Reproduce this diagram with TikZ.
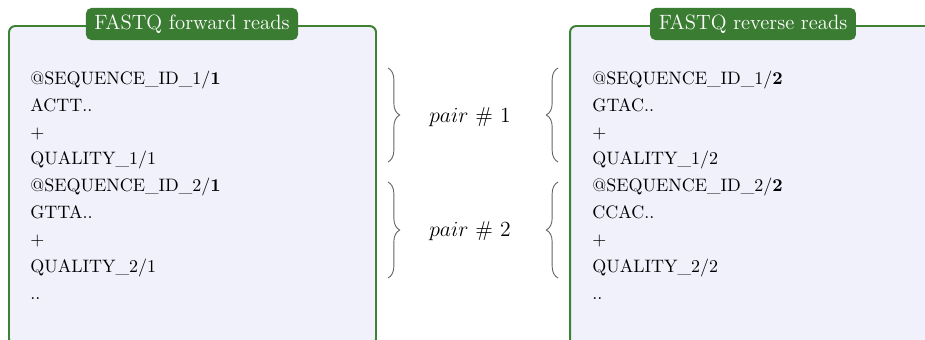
\documentclass[tikz,border=0pt]{standalone}
\usetikzlibrary{decorations.pathreplacing}
\definecolor{framegreen}{RGB}{60,130,50}
\definecolor{tabgreen}{RGB}{58,125,50}
\definecolor{boxfill}{RGB}{241,241,252}
\definecolor{bracegray}{RGB}{100,100,100}
\begin{document}
\begin{tikzpicture}[x=0.5556pt,y=0.5556pt,
  panel/.style={draw=framegreen,fill=boxfill,line width=1.1pt,rounded corners=3.5pt},
  tab/.style={fill=tabgreen,text=white,rounded corners=3pt,inner sep=0pt,minimum height=17.8pt,font=\fontsize{11.5}{13}\selectfont},
  readline/.style={anchor=base west,inner sep=0pt,font=\fontsize{10}{12}\selectfont},
  pairbrace/.style={draw=bracegray,line width=0.5pt,decorate,decoration={brace,amplitude=6.5pt}},
  pairlabel/.style={inner sep=0pt,font=\fontsize{12}{14}\selectfont}]
\useasboundingbox (0,0) rectangle (925,-339);
\begin{scope}
\clip (0,0) rectangle (925,-339);
\draw[panel] (9,-26) rectangle (376,-345);
\draw[panel] (570,-26) rectangle (1000,-345);
\end{scope}
\node[tab,minimum width=117.8pt] (ftab) at (192,-24) {FASTQ forward reads};
\node[tab,minimum width=114.4pt] (rtab) at (753,-24) {FASTQ reverse reads};
% forward reads
\node[readline] (f1) at (30,-84) {@SEQUENCE\_ID\_1/\textbf{1}};
\node[readline] (f2) at (30,-111) {ACTT..};
\node[readline] (f3) at (30,-138) {+};
\node[readline] (f4) at (30,-164) {QUALITY\_1/1};
\node[readline] (f5) at (30,-191) {@SEQUENCE\_ID\_2/\textbf{1}};
\node[readline] (f6) at (30,-218) {GTTA..};
\node[readline] (f7) at (30,-245) {+};
\node[readline] (f8) at (30,-272) {QUALITY\_2/1};
\node[readline] (f9) at (30,-299) {..};
% reverse reads
\node[readline] (r1) at (592,-84) {@SEQUENCE\_ID\_1/\textbf{2}};
\node[readline] (r2) at (592,-111) {GTAC..};
\node[readline] (r3) at (592,-138) {+};
\node[readline] (r4) at (592,-164) {QUALITY\_1/2};
\node[readline] (r5) at (592,-191) {@SEQUENCE\_ID\_2/\textbf{2}};
\node[readline] (r6) at (592,-218) {CCAC..};
\node[readline] (r7) at (592,-245) {+};
\node[readline] (r8) at (592,-272) {QUALITY\_2/2};
\node[readline] (r9) at (592,-299) {..};
% braces
\coordinate (lb1t) at (388,-68);
\coordinate (lb1b) at (388,-162);
\coordinate (lb2t) at (388,-182);
\coordinate (lb2b) at (388,-278);
\coordinate (rb1t) at (558,-68);
\coordinate (rb1b) at (558,-162);
\coordinate (rb2t) at (558,-182);
\coordinate (rb2b) at (558,-278);
\draw[pairbrace] (lb1t) -- (lb1b);
\draw[pairbrace] (lb2t) -- (lb2b);
\draw[pairbrace] (rb1b) -- (rb1t);
\draw[pairbrace] (rb2b) -- (rb2t);
\node[pairlabel] (p1) at (470,-117) {$pair\ \#\ 1$};
\node[pairlabel] (p2) at (470,-231) {$pair\ \#\ 2$};
\end{tikzpicture}
\end{document}
